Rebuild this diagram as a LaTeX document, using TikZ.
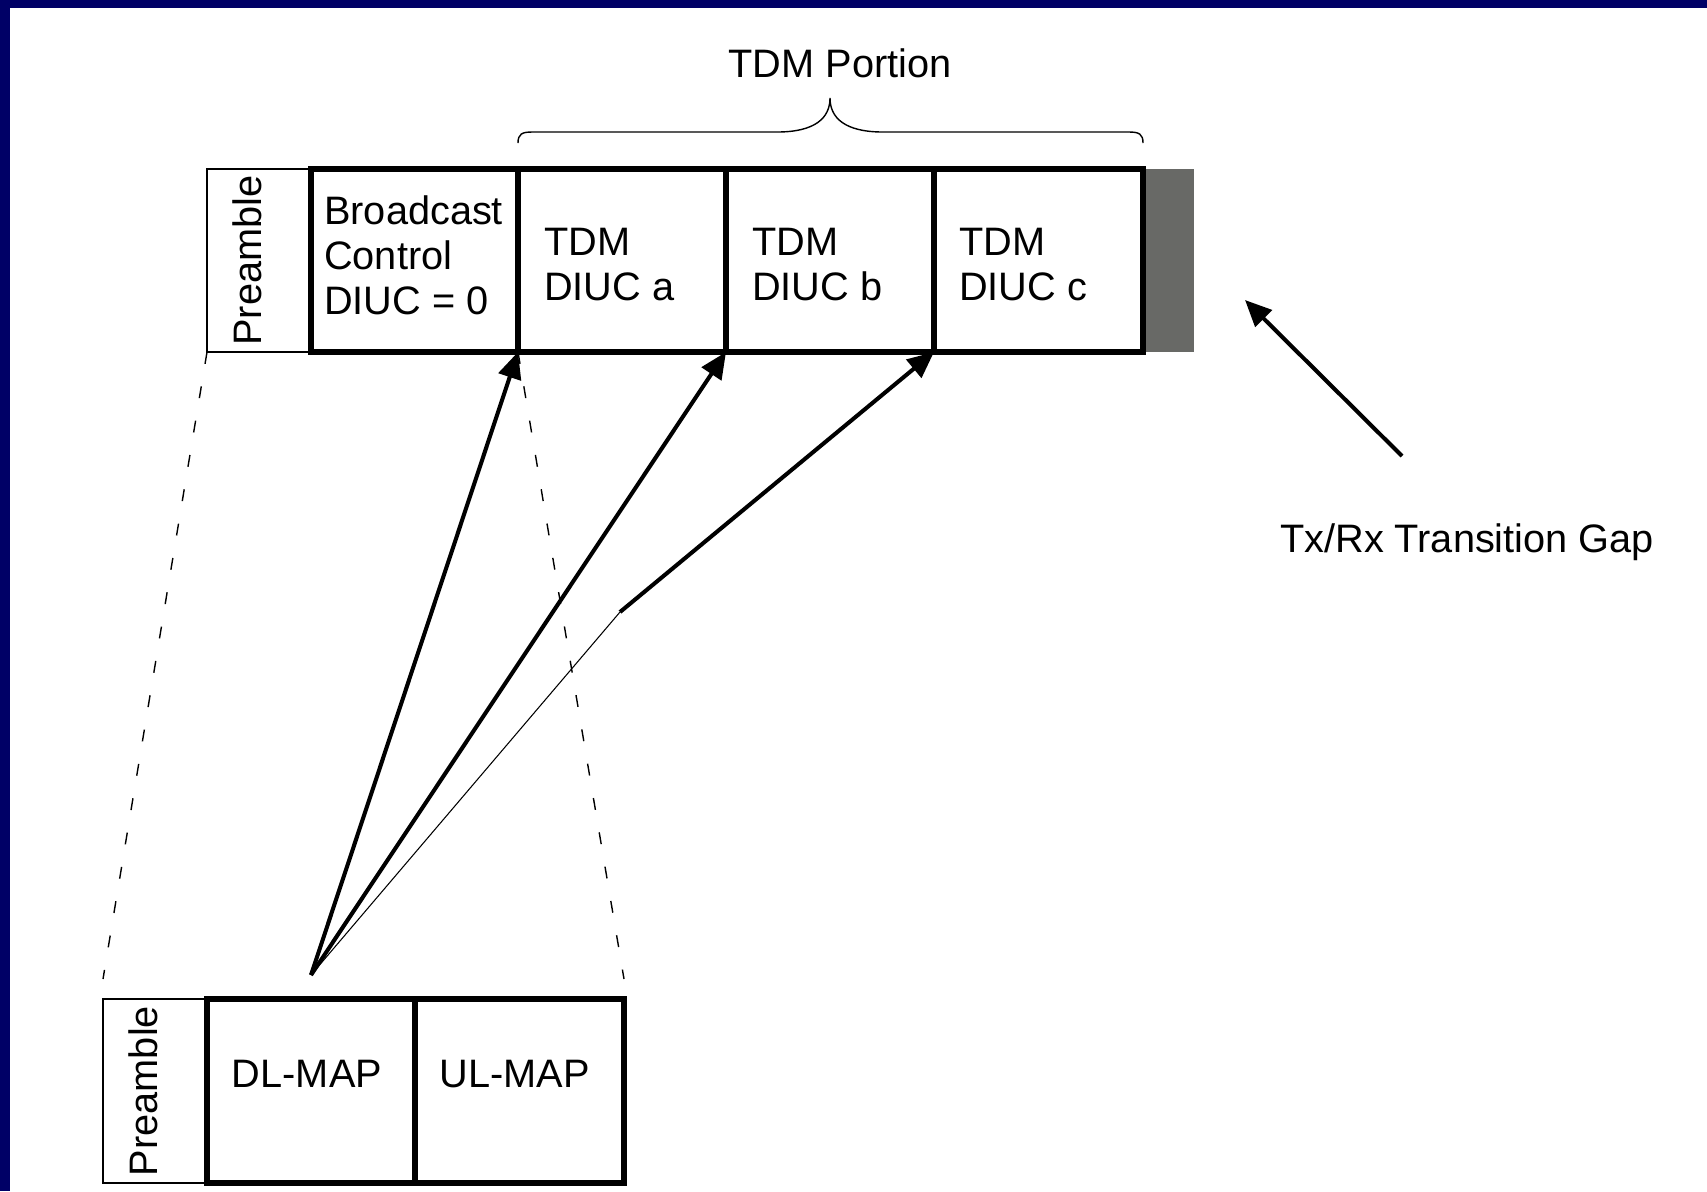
\documentclass[tikz,border=0pt]{standalone}
\usepackage{fontspec}
\setmainfont{Liberation Sans}
\usepackage{xcolor}
\usepackage{tikz}
\definecolor{navy}{HTML}{000066}
\definecolor{gapgray}{HTML}{686966}
\tikzstyle{slot} = [draw, rectangle, line width=0.4pt, inner sep=0pt, outer sep=0pt, minimum height=1.83cm]
\tikzstyle{cell} = [draw, rectangle, line width=1.45pt, inner sep=0pt, outer sep=0pt, minimum height=1.83cm]
\tikzstyle{lbl} = [inner sep=0pt, align=left, font=\fontsize{11.3}{12.8}\selectfont]
\tikzstyle{ptr} = [line width=1.15pt, -{Triangle[length=7.5pt,width=6.6pt]}]
\tikzstyle{zoomline} = [line width=0.4pt, dash pattern=on 3.4pt off 6.5pt]
\usetikzlibrary{arrows.meta}

\begin{document}
\begin{tikzpicture}
  % Frame
  \useasboundingbox (0,0) rectangle (17.07,-11.91);
  \fill[navy] (0,0) rectangle (17.07,-11.91);
  \fill[white] (0.10,-0.08) rectangle (17.07,-11.91);

  % Nodes
  \node[slot, minimum width=1.04cm] (pre1) at (2.59,-2.605) {};
  \node[fill=gapgray, minimum width=0.51cm, minimum height=1.83cm, inner sep=0pt] (gap) at (11.685,-2.605) {};
  \node[cell, minimum width=2.07cm] (bc) at (4.145,-2.605) {};
  \node[cell, minimum width=2.08cm] (ta) at (6.22,-2.605) {};
  \node[cell, minimum width=2.08cm] (tb) at (8.30,-2.605) {};
  \node[cell, minimum width=2.09cm] (tc) at (10.385,-2.605) {};

  \node[slot, minimum width=1.04cm, minimum height=1.84cm] (pre2) at (1.55,-10.91) {};
  \node[cell, minimum width=2.08cm, minimum height=1.84cm] (dl) at (3.11,-10.91) {};
  \node[cell, minimum width=2.09cm, minimum height=1.84cm] (ul) at (5.195,-10.91) {};

  % Texts
  \node[lbl, rotate=90] (pre1txt) at ([xshift=-1.2mm]pre1.center) {Preamble};
  \node[lbl, anchor=north west] (bctxt) at ([shift={(1.25mm,-2.56mm)}]bc.north west) {Broadcast\\Control\\DIUC = 0};
  \node[lbl, anchor=north west] (tatxt) at ([shift={(2.55mm,-5.86mm)}]ta.north west) {TDM\\DIUC a};
  \node[lbl, anchor=north west] (tbtxt) at ([shift={(2.55mm,-5.86mm)}]tb.north west) {TDM\\DIUC b};
  \node[lbl, anchor=north west] (tctxt) at ([shift={(2.45mm,-5.86mm)}]tc.north west) {TDM\\DIUC c};
  \node[lbl, anchor=base] (portion) at (8.40,-0.77) {TDM Portion};
  \node[lbl, anchor=base] (gaplbl) at (14.67,-5.52) {Tx/Rx Transition Gap};

  \node[lbl, rotate=90] (pre2txt) at ([xshift=-1.2mm]pre2.center) {Preamble};
  \node[lbl, anchor=base] (dltxt) at ([shift={(-0.4mm,-8.8mm)}]dl.north) {DL-MAP};
  \node[lbl, anchor=base] (ultxt) at ([shift={(-0.5mm,-8.8mm)}]ul.north) {UL-MAP};

  % Brace
  \draw[line width=0.4pt] (5.18,-1.43) .. controls (5.18,-1.34) and (5.22,-1.32) .. (5.32,-1.32)
    -- (7.77,-1.32) .. controls (8.15,-1.32) and (8.30,-1.18) .. (8.30,-0.98)
    .. controls (8.30,-1.18) and (8.45,-1.32) .. (8.83,-1.32)
    -- (11.29,-1.32) .. controls (11.39,-1.32) and (11.43,-1.34) .. (11.43,-1.43);

  % Zoom lines
  \draw[zoomline] (pre1.south west) -- ([yshift=2mm]pre2.north west);
  \draw[zoomline] (bc.south east) -- ([yshift=2mm]ul.north east);

  % Arrows
  \coordinate (src) at ([yshift=2.4mm]dl.north);
  \coordinate (bend) at (6.20,-6.12);
  \draw[ptr] (src) -- (bc.south east);
  \draw[ptr] (src) -- (ta.south east);
  \draw[line width=0.3pt] (src) -- (bend);
  \draw[ptr] (bend) -- (tb.south east);

  \coordinate (gaptip) at (12.45,-3.00);
  \coordinate (gaptail) at (14.02,-4.56);
  \draw[ptr] (gaptail) -- (gaptip);
\end{tikzpicture}
\end{document}
